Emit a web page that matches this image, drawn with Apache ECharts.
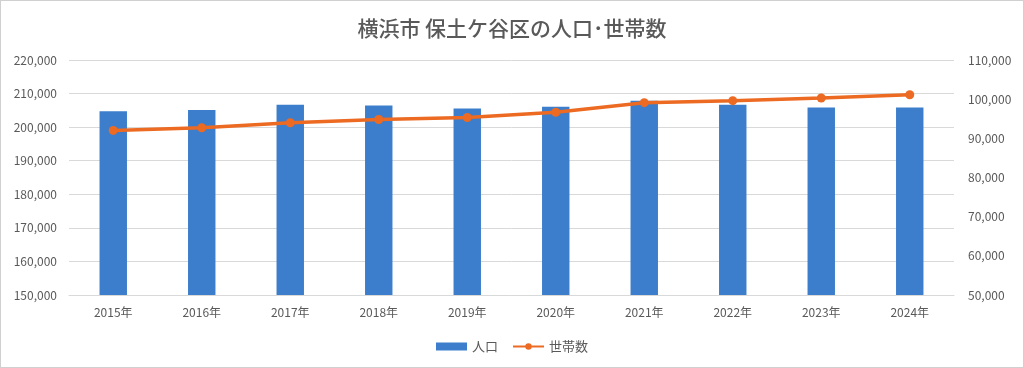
<!DOCTYPE html>
<html>
<head>
<meta charset="utf-8">
<script src="https://cdn.jsdelivr.net/npm/echarts@6/dist/echarts.min.js"></script>
<style>
html,body{margin:0;padding:0;background:#fff;}
#c{width:1024px;height:368px;box-sizing:border-box;border:1px solid #d0d0d0;}
</style>
</head>
<body>
<div id="c"></div>
<script>
const categories = ['2015年','2016年','2017年','2018年','2019年','2020年','2021年','2022年','2023年','2024年'];
const population = [204700, 205100, 206650, 206450, 205570, 206070, 207840, 206660, 205870, 205870];
const households = [92020, 92700, 93970, 94810, 95320, 96660, 99110, 99620, 100300, 101140];

const font = '"Noto Sans CJK JP", "Noto Sans", sans-serif';
const txt = '#595959';
const chart = echarts.init(document.getElementById('c'), null, {renderer:'canvas'});
chart.setOption({
  backgroundColor: '#fff',
  animation: false,
  textStyle: {fontFamily: font},
  title: {
    text: '横浜市 保土ケ谷区の人口･世帯数',
    left: 'center', top: 12,
    textStyle: {fontSize: 21, fontWeight: 500, color: txt, fontFamily: font}
  },
  legend: {
    bottom: 9, left: 'center',
    itemGap: 14,
    textStyle: {fontSize: 13, color: txt, fontFamily: font},
    data: [
      {name: '人口', icon: 'rect'},
      {name: '世帯数'}
    ],
    itemWidth: 31, itemHeight: 8
  },
  grid: {left: 68, right: 69, top: 59, bottom: 72},
  xAxis: {
    type: 'category', data: categories,
    axisLine: {show: true, lineStyle: {color: '#d9d9d9'}},
    axisTick: {show: false},
    axisLabel: {color: txt, fontSize: 12, margin: 11, fontFamily: font}
  },
  yAxis: [
    {
      type: 'value', min: 150000, max: 220000, interval: 10000,
      axisLabel: {color: txt, fontSize: 12, margin: 12, fontFamily: font,
        formatter: v => v.toLocaleString('en-US')},
      splitLine: {lineStyle: {color: '#d9d9d9', width: 1}},
      axisLine: {show: false}, axisTick: {show: false}
    },
    {
      type: 'value', min: 50000, max: 110000, interval: 10000,
      axisLabel: {color: txt, fontSize: 12, margin: 14, fontFamily: font,
        formatter: v => v.toLocaleString('en-US')},
      splitLine: {show: false},
      axisLine: {show: false}, axisTick: {show: false}
    }
  ],
  series: [
    {
      name: '人口', type: 'bar', data: population, yAxisIndex: 0,
      barWidth: '31%',
      itemStyle: {color: '#3C7ECB'}
    },
    {
      name: '世帯数', type: 'line', data: households, yAxisIndex: 1,
      symbol: 'circle', symbolSize: 9,
      lineStyle: {color: '#EC6A22', width: 3.5},
      itemStyle: {color: '#EC6A22'}
    }
  ]
});
</script>
</body>
</html>
